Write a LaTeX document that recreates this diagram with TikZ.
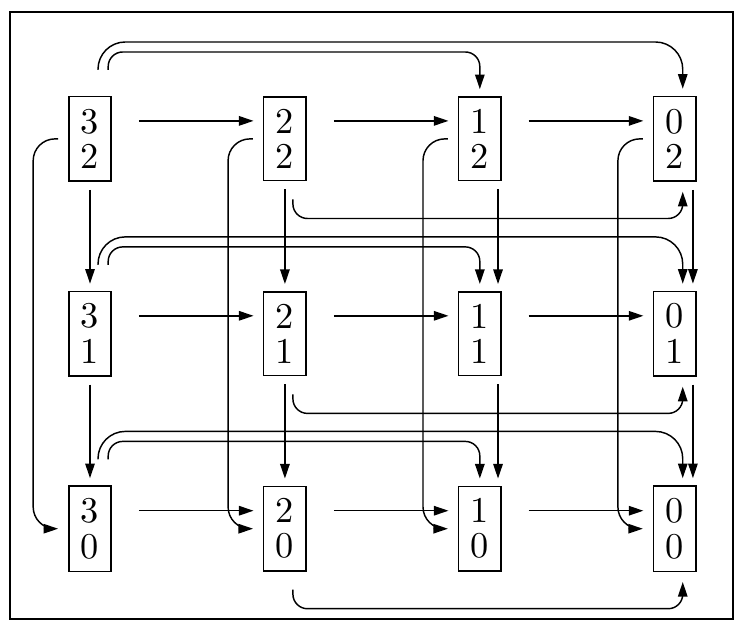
\documentclass[tikz,border=0pt]{standalone}
\usepackage{tikz}
\usetikzlibrary{arrows.meta}
\usetikzlibrary{positioning}

\begin{document}
\begin{tikzpicture}[
    box/.style={draw, inner sep=3.33pt},
    node distance=53.6pt, on grid,
    >={Triangle[length=4pt,width=2.6pt]},
  ]
    \useasboundingbox (-24.75pt,-134.5pt) rectangle (180.4pt,38.2pt);
    \draw (-22pt,-132pt) rectangle (176.8pt,34.9pt);

    \node [box] (n32) at (0,0) {\shortstack{3\\2}};
    \node [box, right=of n32] (n22) {\shortstack{2\\2}};
    \node [box, right=of n22] (n12) {\shortstack{1\\2}};
    \node [box, right=of n12] (n02) {\shortstack{0\\2}};
    \node [box, below=of n32] (n31) {\shortstack{3\\1}};
    \node [box, right=of n31] (n21) {\shortstack{2\\1}};
    \node [box, right=of n21] (n11) {\shortstack{1\\1}};
    \node [box, right=of n11] (n01) {\shortstack{0\\1}};
    \node [box, below=of n31] (n30) {\shortstack{3\\0}};
    \node [box, right=of n30] (n20) {\shortstack{2\\0}};
    \node [box, right=of n20] (n10) {\shortstack{1\\0}};
    \node [box, right=of n10] (n00) {\shortstack{0\\0}};

    % rows
    \draw [->] ([shift={(7.4pt,4.95pt)}]n32.east) -- ([shift={(-2.6pt,4.95pt)}]n22.west);
    \draw [->] ([shift={(7.4pt,4.95pt)}]n22.east) -- ([shift={(-2.6pt,4.95pt)}]n12.west);
    \draw [->] ([shift={(7.4pt,4.95pt)}]n12.east) -- ([shift={(-2.6pt,4.95pt)}]n02.west);
    \draw [->] ([shift={(7.4pt,4.95pt)}]n31.east) -- ([shift={(-2.6pt,4.95pt)}]n21.west);
    \draw [->] ([shift={(7.4pt,4.95pt)}]n21.east) -- ([shift={(-2.6pt,4.95pt)}]n11.west);
    \draw [->] ([shift={(7.4pt,4.95pt)}]n11.east) -- ([shift={(-2.6pt,4.95pt)}]n01.west);
    \draw [->] ([shift={(7.4pt,4.95pt)}]n30.east) -- ([shift={(-2.6pt,4.95pt)}]n20.west);
    \draw [->] ([shift={(7.4pt,4.95pt)}]n20.east) -- ([shift={(-2.6pt,4.95pt)}]n10.west);
    \draw [->] ([shift={(7.4pt,4.95pt)}]n10.east) -- ([shift={(-2.6pt,4.95pt)}]n00.west);

    % columns
    \draw [->] ([yshift=-2.2pt]n32.south) -- ([yshift=2pt]n31.north);
    \draw [->] ([yshift=-2.2pt]n31.south) -- ([yshift=2pt]n30.north);
    \draw [->] ([yshift=-2.2pt]n22.south) -- ([yshift=2pt]n21.north);
    \draw [->] ([yshift=-2.2pt]n21.south) -- ([yshift=2pt]n20.north);
    \draw [->] ([shift={(5pt,-2.2pt)}]n12.south) -- ([shift={(5pt,2pt)}]n11.north);
    \draw [->] ([shift={(5pt,-2.2pt)}]n11.south) -- ([shift={(5pt,2pt)}]n10.north);
    \draw [->] ([shift={(5pt,-2.2pt)}]n02.south) -- ([shift={(5pt,2pt)}]n01.north);
    \draw [->] ([shift={(5pt,-2.2pt)}]n01.south) -- ([shift={(5pt,2pt)}]n00.north);

    % long jumps over the top
    \draw [->, rounded corners=7.5pt] ([shift={(2.2pt,7.15pt)}]n32.north)
      -- ([shift={(2.2pt,14.85pt)}]n32.north) -| ([shift={(2.2pt,2pt)}]n02.north);
    \draw [->, rounded corners=4pt] ([shift={(5pt,7.15pt)}]n32.north)
      -- ([shift={(5pt,12.1pt)}]n32.north) -| ([yshift=2pt]n12.north);
    \draw [->, rounded corners=7.5pt] ([shift={(2.2pt,7.15pt)}]n31.north)
      -- ([shift={(2.2pt,14.85pt)}]n31.north) -| ([shift={(2.2pt,2pt)}]n01.north);
    \draw [->, rounded corners=4pt] ([shift={(5pt,7.15pt)}]n31.north)
      -- ([shift={(5pt,12.1pt)}]n31.north) -| ([yshift=2pt]n11.north);
    \draw [->, rounded corners=7.5pt] ([shift={(2.2pt,7.15pt)}]n30.north)
      -- ([shift={(2.2pt,14.85pt)}]n30.north) -| ([shift={(2.2pt,2pt)}]n00.north);
    \draw [->, rounded corners=4pt] ([shift={(5pt,7.15pt)}]n30.north)
      -- ([shift={(5pt,12.1pt)}]n30.north) -| ([yshift=2pt]n10.north);

    % jumps underneath
    \draw [->, rounded corners=4pt] ([shift={(2.2pt,-4.95pt)}]n22.south)
      -- ([shift={(2.2pt,-10.2pt)}]n22.south) -| ([shift={(2.2pt,-2.75pt)}]n02.south);
    \draw [->, rounded corners=4pt] ([shift={(2.2pt,-4.95pt)}]n21.south)
      -- ([shift={(2.2pt,-10.2pt)}]n21.south) -| ([shift={(2.2pt,-2.75pt)}]n01.south);
    \draw [->, rounded corners=4pt] ([shift={(2.2pt,-4.95pt)}]n20.south)
      -- ([shift={(2.2pt,-10.2pt)}]n20.south) -| ([shift={(2.2pt,-2.75pt)}]n00.south);

    % down the left side
    \draw [->, rounded corners=6pt] ([xshift=-2.75pt]n32.west)
      -- ([xshift=-9.6pt]n32.west) |- ([xshift=-2.75pt]n30.west);
    \draw [->, rounded corners=6pt] ([xshift=-2.75pt]n22.west)
      -- ([xshift=-9.6pt]n22.west) |- ([xshift=-2.75pt]n20.west);
    \draw [->, rounded corners=6pt] ([xshift=-2.75pt]n12.west)
      -- ([xshift=-9.6pt]n12.west) |- ([xshift=-2.75pt]n10.west);
    \draw [->, rounded corners=6pt] ([xshift=-2.75pt]n02.west)
      -- ([xshift=-9.6pt]n02.west) |- ([xshift=-2.75pt]n00.west);
  \end{tikzpicture}
\end{document}
